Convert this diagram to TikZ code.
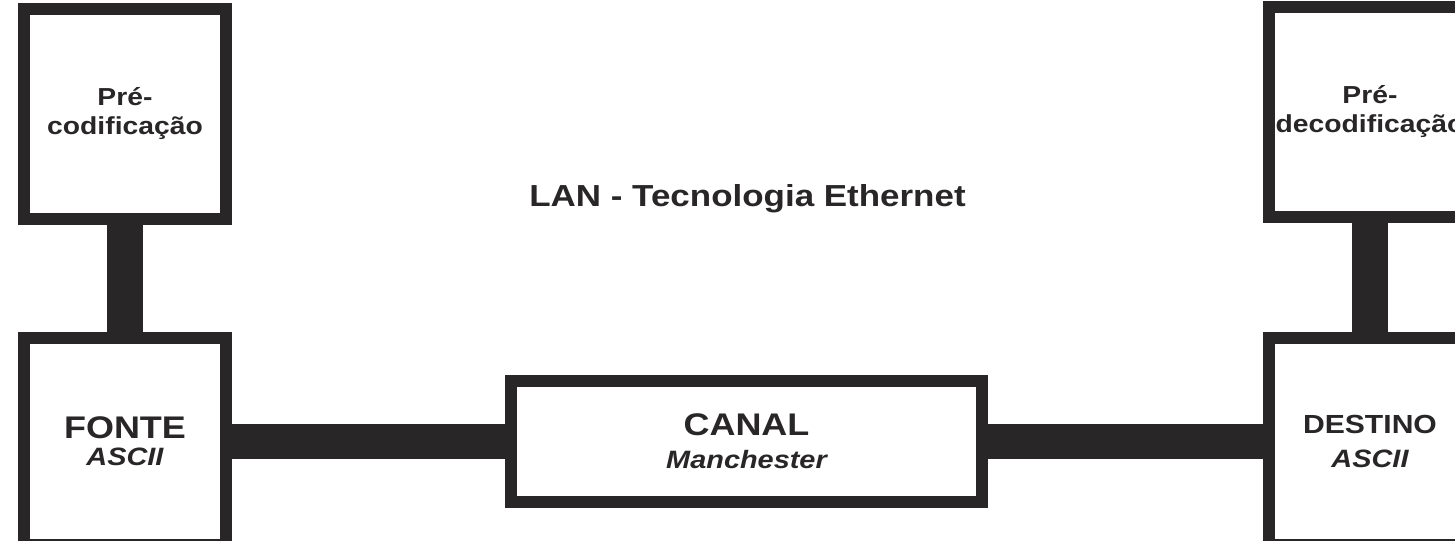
\documentclass[tikz,border=0pt]{standalone}
\usepackage{fontspec}
\setmainfont[FakeStretch=1.15]{Liberation Sans}
\definecolor{tinta}{RGB}{40,38,39}

\tikzstyle{bloco}=[rectangle, draw=tinta, text=tinta, line width=0.24cm,
                   inner sep=0pt, align=center]
\tikzstyle{barra}=[tinta, line width=0.72cm]

\begin{document}
\begin{tikzpicture}[x=0.02cm, y=-0.02cm]
\useasboundingbox (0,0) rectangle (1455,541);
\clip (0,0) rectangle (1455,541);
%%%%%%%%%%%%%%%%%%%%%%%%%%%%%%
% nodes

% titulo
\node (titulo) at (747.5, 206) [anchor=base, text=tinta, inner sep=0pt,
  font=\fontsize{17.3}{20}\selectfont\bfseries] {LAN - Tecnologia Ethernet};

% lado da fonte
\node (precod) at (125, 114) [bloco, minimum width=4.04cm, minimum height=4.2cm,
  font=\fontsize{14}{16.5}\selectfont\bfseries] {Pré-\\codificação};

\node (fonte) at (125, 441.5) [bloco, minimum width=4.04cm, minimum height=4.16cm,
  font=\fontsize{17.8}{15.5}\selectfont\bfseries]
  {FONTE\\{\fontsize{14.3}{15.5}\selectfont\itshape ASCII}};

% canal
\node (canal) at (746.5, 441.5) [bloco, minimum width=9.42cm, minimum height=2.42cm,
  font=\fontsize{17.8}{19}\selectfont\bfseries]
  {CANAL\\{\fontsize{14.3}{19}\selectfont\itshape Manchester}};

% lado do destino
\node (predecod) at (1370, 112) [bloco, minimum width=4.04cm, minimum height=4.2cm,
  font=\fontsize{14}{16.5}\selectfont\bfseries] {Pré-\\decodificação};

\node (destino) at (1370, 441.5) [bloco, minimum width=4.04cm, minimum height=4.16cm,
  font=\fontsize{14.9}{19}\selectfont\bfseries]
  {DESTINO\\{\fontsize{14.3}{19}\selectfont\itshape ASCII}};

%%%%%%%%%%%%%%%%%%%%%%%%%%%%%%
% links

\draw [barra] (precod) -- (fonte);
\draw [barra] (fonte) -- (canal);
\draw [barra] (canal) -- (destino);
\draw [barra] (predecod) -- (destino);

\end{tikzpicture}
\end{document}
